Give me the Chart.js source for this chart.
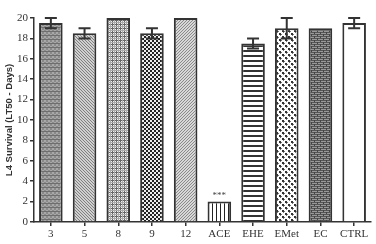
<!DOCTYPE html>
<html><head><meta charset="utf-8">
<script src="https://cdn.jsdelivr.net/npm/chart.js@4/dist/chart.umd.min.js"></script>
<style>html,body{margin:0;padding:0;background:#fff}#c{display:block}</style>
</head><body>
<canvas id="c" width="376" height="244"></canvas>
<script>
const categories = ["3","5","8","9","12","ACE","EHE","EMet","EC","CTRL"];
const survival = [19.5,18.5,20,18.5,20,2,17.5,19,19,19.5];
const errors = [0.5,0.5,0,0.5,0,0,0.5,1,0,0.5];
const significance = ["","","","","","***","","","",""];
const yTicks = [0,2,4,6,8,10,12,14,16,18,20];

function pat(w,h,draw){
  const c=document.createElement('canvas');c.width=w;c.height=h;
  const x=c.getContext('2d');draw(x,w,h);
  return x.createPattern(c,'repeat');
}
const patterns=[
  pat(4,4,(x)=>{x.fillStyle='#8a8a8a';x.fillRect(0,0,4,4);x.fillStyle='#a8a8a8';x.fillRect(0,0,2,2);x.fillRect(2,2,2,2);x.fillStyle='#6e6e6e';x.fillRect(0,3,4,1);}),
  pat(3,3,(x)=>{x.fillStyle='#d0d0d0';x.fillRect(0,0,3,3);x.fillStyle='#808080';x.fillRect(0,0,1,1);x.fillRect(1,1,1,1);x.fillRect(2,2,1,1);}),
  pat(4,4,(x)=>{x.fillStyle='#f2f2f2';x.fillRect(0,0,4,4);x.fillStyle='#666';x.fillRect(0,0,4,1);x.fillRect(0,0,1,4);x.fillStyle='#aaa';x.fillRect(2,0,1,4);x.fillRect(0,2,4,1);}),
  pat(4,4,(x)=>{x.fillStyle='#eee';x.fillRect(0,0,4,4);x.fillStyle='#222';x.fillRect(0,0,2,2);x.fillRect(2,2,2,2);}),
  pat(3,3,(x)=>{x.fillStyle='#d8d8d8';x.fillRect(0,0,3,3);x.fillStyle='#8a8a8a';x.fillRect(2,0,1,1);x.fillRect(1,1,1,1);x.fillRect(0,2,1,1);}),
  pat(4,4,(x)=>{x.fillStyle='#fff';x.fillRect(0,0,4,4);x.fillStyle='#222';x.fillRect(0,0,1,4);}),
  pat(4,5,(x)=>{x.fillStyle='#fff';x.fillRect(0,0,4,5);x.fillStyle='#333';x.fillRect(0,0,4,2);}),
  pat(6,6,(x)=>{x.fillStyle='#fff';x.fillRect(0,0,6,6);x.fillStyle='#333';x.fillRect(0,0,2,2);x.fillRect(3,3,2,2);x.fillStyle='#777';x.fillRect(2,1,1,1);x.fillRect(5,4,1,1);x.fillRect(1,2,1,1);x.fillRect(4,5,1,1);}),
  pat(6,4,(x)=>{x.fillStyle='#555';x.fillRect(0,0,6,4);x.fillStyle='#999';x.fillRect(0,1,6,1);x.fillRect(0,3,6,1);x.fillStyle='#444';x.fillRect(2,0,1,2);x.fillRect(5,2,1,2);}),
  '#ffffff'
];

const extras={
  id:'extras',
  afterDatasetsDraw(chart){
    const ctx=chart.ctx, xs=chart.scales.x, ys=chart.scales.y;
    ctx.save();
    ctx.strokeStyle='#333';ctx.lineWidth=2;
    survival.forEach((v,i)=>{
      const cx=xs.getPixelForValue(i);
      if(errors[i]>0){
        const t=ys.getPixelForValue(v+errors[i]), b=ys.getPixelForValue(v-errors[i]);
        ctx.beginPath();ctx.moveTo(cx,t);ctx.lineTo(cx,b);
        ctx.moveTo(cx-6,t);ctx.lineTo(cx+6,t);
        ctx.moveTo(cx-6,b);ctx.lineTo(cx+6,b);ctx.stroke();
      }
      if(significance[i]){
        ctx.fillStyle='#444';ctx.font='9px "Liberation Serif"';ctx.textAlign='center';ctx.textBaseline='bottom';
        ctx.fillText(significance[i],cx,ys.getPixelForValue(v)-1);
      }
    });
    ctx.restore();
  }
};

new Chart(document.getElementById('c'),{
  type:'bar',
  data:{labels:categories,datasets:[{data:survival,backgroundColor:patterns,borderColor:'#333',borderWidth:2,borderSkipped:'bottom',barPercentage:0.7,categoryPercentage:1.0}]},
  options:{
    responsive:false,animation:false,
    layout:{padding:{top:18,right:5,left:0,bottom:0}},
    plugins:{legend:{display:false},tooltip:{enabled:false}},
    scales:{
      x:{
        grid:{display:true,drawOnChartArea:false,drawTicks:true,tickLength:4,offset:false,color:'#333',lineWidth:1.5},
        border:{display:true,color:'#333',width:1.5},
        ticks:{color:'#333',font:{family:'"Liberation Serif"',size:11},padding:2,maxRotation:0},
        afterFit(s){s.height=22;}
      },
      y:{
        min:0,max:20,
        afterBuildTicks(s){s.ticks=yTicks.map(v=>({value:v}));},
        grid:{display:true,drawOnChartArea:false,drawTicks:true,tickLength:4,color:'#333',lineWidth:1.5},
        border:{display:true,color:'#333',width:1.5},
        ticks:{color:'#333',font:{family:'"Liberation Serif"',size:11},padding:2},
        title:{display:true,text:'L4 Survival (LT50 - Days)',color:'#333',font:{family:'"Liberation Sans"',size:9.5,weight:'bold'},padding:{top:4,bottom:1}},
        afterFit(s){s.width=34;}
      }
    }
  },
  plugins:[extras]
});
</script>
</body></html>
